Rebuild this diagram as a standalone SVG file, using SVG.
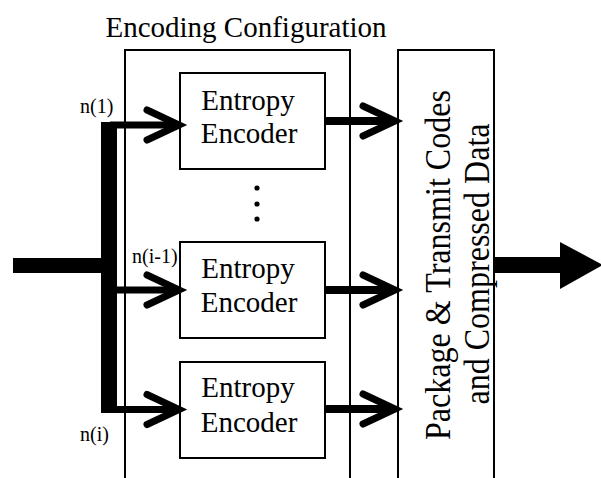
<svg xmlns="http://www.w3.org/2000/svg" width="601" height="478" viewBox="0 0 601 478">
<style>
.box{fill:#fff;stroke:#000;stroke-width:2}
.frame{fill:none;stroke:#000;stroke-width:2}
.t{font-family:'Liberation Serif',Tinos,'Times New Roman','DejaVu Serif',serif;fill:#000}
.lbl{font-size:29px;text-anchor:middle}
.small{font-size:20px}
.ln{stroke:#000;stroke-width:7;fill:none}
.chev{stroke:#000;stroke-width:7;fill:none;stroke-linecap:round;stroke-linejoin:miter}
</style>
<rect width="601" height="478" fill="#fff"/>
<g id="config">
<path class="frame" d="M125 480 V50 H350 V480"/>
<text class="t" x="246" y="37" font-size="29" text-anchor="middle" font-family="Liberation Serif, serif">Encoding Configuration</text>
</g>
<g id="package">
<path class="frame" d="M398 480 V50 H494 V480"/>
<text class="t" font-size="36" text-anchor="middle" textLength="350" lengthAdjust="spacingAndGlyphs" transform="translate(450,265) rotate(-90)">Package &amp; Transmit Codes</text>
<text class="t" font-size="36" text-anchor="middle" textLength="281" lengthAdjust="spacingAndGlyphs" transform="translate(489,264) rotate(-90)">and Compressed Data</text>
</g>
<g id="enc1">
<rect class="box" x="180" y="73" width="145" height="96"/>
<text class="t lbl" x="248" y="110">Entropy</text>
<text class="t lbl" x="249" y="143">Encoder</text>
</g>
<g id="enc2">
<rect class="box" x="180" y="242" width="145" height="96"/>
<text class="t lbl" x="248" y="278">Entropy</text>
<text class="t lbl" x="249" y="312">Encoder</text>
</g>
<g id="enc3">
<rect class="box" x="180" y="362" width="145" height="96"/>
<text class="t lbl" x="248" y="397">Entropy</text>
<text class="t lbl" x="249" y="432">Encoder</text>
</g>
<g id="dots">
<circle cx="257" cy="188" r="2.6"/>
<circle cx="257" cy="204" r="2.6"/>
<circle cx="257" cy="219" r="2.6"/>
</g>
<g id="labels">
<text class="t small" x="80" y="113">n(1)</text>
<text class="t small" x="132" y="263">n(i-1)</text>
<text class="t small" x="80" y="441">n(i)</text>
</g>
<g id="connectors">
<rect x="13" y="258" width="96" height="15"/>
<rect x="101" y="122" width="16" height="291"/>
<line class="ln" x1="110" y1="125" x2="178" y2="125"/>
<line class="ln" x1="110" y1="290" x2="178" y2="290"/>
<line class="ln" x1="110" y1="409.5" x2="178" y2="409.5"/>
<polyline class="chev" points="147,110 179,125 147,140"/>
<polyline class="chev" points="147,275 179,290 147,305"/>
<polyline class="chev" points="147,394.5 179,409.5 147,424.5"/>
<line stroke="#000" stroke-width="8" x1="325" y1="121" x2="394" y2="121"/>
<line stroke="#000" stroke-width="8" x1="325" y1="290" x2="394" y2="290"/>
<line stroke="#000" stroke-width="8" x1="325" y1="409" x2="394" y2="409"/>
<polyline class="chev" points="363,106 395,121 363,136"/>
<polyline class="chev" points="363,275 395,290 363,305"/>
<polyline class="chev" points="363,394 395,409 363,424"/>
<rect x="494" y="257" width="70" height="16"/>
<polygon points="560,242 603,265 560,289"/>
</g>
</svg>
